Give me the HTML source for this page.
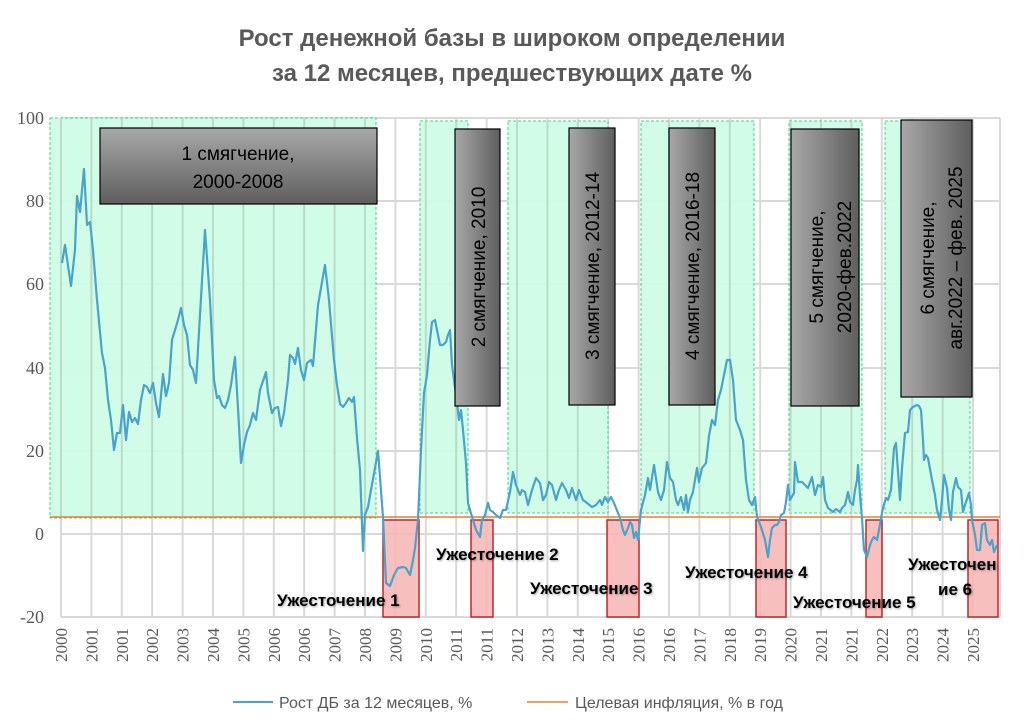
<!DOCTYPE html>
<html><head><meta charset="utf-8"><style>
html,body{margin:0;padding:0;background:#fff;}
svg{display:block;}
.t{font-family:"Liberation Sans","DejaVu Sans",sans-serif;font-weight:bold;fill:#595959;font-size:24px;}
.yl{font-family:"Liberation Serif",serif;font-size:18px;fill:#595959;}
.xl{font-family:"Liberation Serif",serif;font-size:17px;fill:#595959;}
.bx{font-family:"Liberation Sans",sans-serif;font-size:19px;fill:#000;}
.an{font-family:"Liberation Sans",sans-serif;font-weight:bold;font-size:17px;fill:#000;}
.lg{font-family:"Liberation Sans",sans-serif;font-size:16px;fill:#595959;}
</style></head><body>
<svg width="1025" height="726" viewBox="0 0 1025 726" xmlns="http://www.w3.org/2000/svg">
<defs>
<linearGradient id="gv" x1="0" y1="0" x2="0" y2="1"><stop offset="0" stop-color="#a8a8a8"/><stop offset="1" stop-color="#5e5e5e"/></linearGradient>
<linearGradient id="gh" x1="0" y1="0" x2="1" y2="0"><stop offset="0" stop-color="#a8a8a8"/><stop offset="1" stop-color="#5e5e5e"/></linearGradient>
<filter id="sh"><feDropShadow dx="1" dy="1" stdDeviation="1" flood-color="#000" flood-opacity="0.35"/></filter>
</defs>
<text class="t" x="512" y="46" text-anchor="middle">Рост денежной базы в широком определении</text>
<text class="t" x="512" y="81" text-anchor="middle">за 12 месяцев, предшествующих дате %</text>
<g stroke="#d9d9d9" stroke-width="2">
<line x1="61" y1="118" x2="1000" y2="118"/><line x1="61" y1="201" x2="1000" y2="201"/><line x1="61" y1="284" x2="1000" y2="284"/><line x1="61" y1="368" x2="1000" y2="368"/><line x1="61" y1="451" x2="1000" y2="451"/><line x1="61" y1="534" x2="1000" y2="534"/><line x1="61" y1="617" x2="1000" y2="617"/>
</g>
<g id="vg" stroke="#d9d9d9" stroke-width="2"></g>
<g fill="#ccfce4" stroke="#3fd88a" stroke-width="1" stroke-dasharray="3,2" fill-opacity="0.9">
<rect x="50" y="118" width="326" height="400"/>
<rect x="420" y="121" width="48" height="392"/>
<rect x="508" y="121" width="100" height="392"/>
<rect x="641" y="121" width="113" height="392"/>
<rect x="789" y="121" width="73" height="392"/>
<rect x="885" y="121" width="85" height="392"/>
</g>
<g id="vg2" stroke="#b9dcc8" stroke-width="2"></g>
<line x1="50" y1="517" x2="1000" y2="517" stroke="#ed7d31" stroke-width="1.5"/>
<g fill="#f7b4b4" stroke="#c0282a" stroke-width="1.5" fill-opacity="0.85">
<rect x="383" y="520" width="36" height="97"/>
<rect x="471" y="520" width="22" height="97"/>
<rect x="607" y="520" width="32" height="97"/>
<rect x="756" y="520" width="30" height="97"/>
<rect x="866" y="520" width="16" height="97"/>
<rect x="968" y="520" width="30" height="97"/>
</g>
<polyline fill="none" stroke="#4aa3c8" stroke-width="2.2" stroke-linejoin="round" points="62,263 65,245 71,286 75,250 77,196 80,212 84,169 87,225 90,222 93,250 97,300 102,353 105,368 108,400 111,420 114,450 117,433 120,433 123,405 126,440 129,412 132,422 135,418 138,424 141,400 144,385 147,387 150,393 153,383 156,403 159,417 163,374 166,396 169,383 172,340 175,330 178,320 181,308 184,325 187,335 190,365 193,370 196,383 205,230 210,300 214,380 217,398 219,396 222,405 225,408 228,400 231,385 235,357 238,408 241,463 244,445 247,432 250,425 253,413 256,420 260,390 266,372 268,393 272,413 275,408 278,407 281,426 284,413 288,380 290,355 293,358 295,364 298,348 301,370 304,380 307,363 311,360 313,366 318,305 325,265 329,300 334,360 337,385 340,404 343,407 346,403 349,398 352,402 354,397 357,438 360,470 363,551 365,515 368,507 371,490 375,468 378,451 383,517 386,583 390,586 394,575 398,568 403,567 406,568 410,575 413,560 415,548 418,520 421,450 424,393 427,375 430,340 432,322 435,320 437,330 440,345 443,345 446,342 448,335 450,330 452,365 456,395 459,420 461,410 463,430 466,463 468,503 470,510 473,520 476,530 480,537 482,520 485,515 488,503 490,510 493,512 496,515 500,518 503,510 506,510 510,492 513,472 516,485 520,495 522,490 525,492 528,505 532,490 536,478 540,483 543,500 546,495 549,482 552,485 556,500 559,490 562,483 566,490 569,498 572,488 576,500 579,490 583,500 587,503 592,507 596,505 600,500 602,505 605,497 608,502 611,497 614,503 616,508 620,518 623,530 625,535 628,528 630,522 632,525 634,538 636,532 638,540 641,510 645,495 648,478 650,490 654,465 658,492 661,500 664,490 667,462 670,478 673,482 676,500 678,505 681,497 684,510 686,495 688,512 690,500 693,492 697,468 699,482 702,468 706,463 709,436 712,420 715,425 718,400 721,390 727,360 730,360 733,380 736,420 740,430 743,440 746,480 749,500 752,505 755,497 757,517 761,527 765,540 768,557 770,540 772,528 775,525 777,525 779,522 781,515 784,513 786,502 788,485 790,500 794,493 795,462 798,482 802,482 805,485 808,488 812,477 815,495 818,485 821,487 823,477 825,500 828,508 833,512 836,509 840,512 842,508 845,505 848,492 850,502 853,505 855,490 857,480 858,465 860,495 862,518 864,550 867,557 870,545 872,540 874,537 877,540 879,530 881,518 883,508 886,498 888,500 891,490 894,448 896,443 900,500 902,468 905,433 908,432 910,410 913,407 917,405 919,406 921,410 923,440 924,460 926,455 928,458 932,480 935,495 937,510 940,520 942,500 944,475 947,488 949,510 951,520 953,492 956,478 958,487 961,490 963,512 965,505 969,493 971,505 972,520 975,535 977,550 980,550 982,525 985,523 987,540 990,545 992,540 994,552 997,545"/>
<g stroke="#000" stroke-width="1.2">
<rect x="100" y="128" width="277" height="76" fill="url(#gv)"/>
<rect x="455" y="129" width="45" height="277" fill="url(#gh)"/>
<rect x="569" y="128" width="46" height="277" fill="url(#gh)"/>
<rect x="669" y="128" width="46" height="277" fill="url(#gh)"/>
<rect x="791" y="129" width="68" height="277" fill="url(#gh)"/>
<rect x="901" y="120" width="71" height="277" fill="url(#gh)"/>
</g>
<text class="bx" x="238" y="160" text-anchor="middle">1 смягчение,</text>
<text class="bx" x="238" y="188" text-anchor="middle">2000-2008</text>
<text class="bx" transform="translate(485,267) rotate(-90)" text-anchor="middle">2 смягчение, 2010</text>
<text class="bx" transform="translate(599,266) rotate(-90)" text-anchor="middle">3 смягчение, 2012-14</text>
<text class="bx" transform="translate(699,266) rotate(-90)" text-anchor="middle">4 смягчение, 2016-18</text>
<text class="bx" transform="translate(823,267) rotate(-90)" text-anchor="middle">5 смягчение,</text>
<text class="bx" transform="translate(851,267) rotate(-90)" text-anchor="middle">2020-фев.2022</text>
<text class="bx" transform="translate(934,258) rotate(-90)" text-anchor="middle">6 смягчение,</text>
<text class="bx" transform="translate(962,258) rotate(-90)" text-anchor="middle">авг.2022 – фев. 2025</text>
<g filter="url(#sh)">
<text class="an" x="277" y="606">Ужесточение 1</text>
<text class="an" x="436" y="560">Ужесточение 2</text>
<text class="an" x="530" y="594">Ужесточение  3</text>
<text class="an" x="685" y="578">Ужесточение 4</text>
<text class="an" x="793" y="608">Ужесточение 5</text>
<text class="an" x="908" y="570">Ужесточен</text>
<text class="an" x="938" y="595">ие 6</text>
</g>
<g class="yl" text-anchor="end">
<text x="44" y="124">100</text><text x="44" y="207">80</text><text x="44" y="290">60</text><text x="44" y="374">40</text><text x="44" y="457">20</text><text x="44" y="540">0</text><text x="44" y="623">-20</text>
</g>
<g id="xl"></g>
<line x1="233" y1="702" x2="273" y2="702" stroke="#4aa3c8" stroke-width="2"/>
<text class="lg" x="279" y="708">Рост ДБ за 12 месяцев, %</text>
<line x1="527" y1="702" x2="568" y2="702" stroke="#ed7d31" stroke-width="1.5"/>
<text class="lg" x="575" y="708">Целевая инфляция, % в год</text>
</svg>
<script>
var labs=["2000","2001","2001","2002","2003","2004","2005","2006","2006","2007","2008","2009","2010","2011","2011","2012","2013","2014","2015","2016","2016","2017","2018","2019","2020","2021","2021","2022","2023","2024","2025"];
var ns="http://www.w3.org/2000/svg",vg=document.getElementById("vg"),vg2=document.getElementById("vg2"),xl=document.getElementById("xl");
var green=[[50,376],[420,468],[508,608],[641,754],[789,862],[885,970]];
for(var i=0;i<labs.length;i++){var x=61+i*30.4;
var l=document.createElementNS(ns,"line");l.setAttribute("x1",x);l.setAttribute("x2",x);l.setAttribute("y1",118);l.setAttribute("y2",617);vg.appendChild(l);
for(var g=0;g<green.length;g++){if(x>green[g][0]&&x<green[g][1]){var l2=document.createElementNS(ns,"line");l2.setAttribute("x1",x);l2.setAttribute("x2",x);l2.setAttribute("y1",g==0?118:121);l2.setAttribute("y2",g==0?518:513);vg2.appendChild(l2);}}
var t=document.createElementNS(ns,"text");t.setAttribute("class","xl");t.setAttribute("text-anchor","end");t.setAttribute("transform","translate("+(x+6)+",628) rotate(-90)");t.textContent=labs[i];xl.appendChild(t);}
var r=document.createElementNS(ns,"line");r.setAttribute("x1",1000);r.setAttribute("x2",1000);r.setAttribute("y1",118);r.setAttribute("y2",617);vg.appendChild(r);
</script>
</body></html>
